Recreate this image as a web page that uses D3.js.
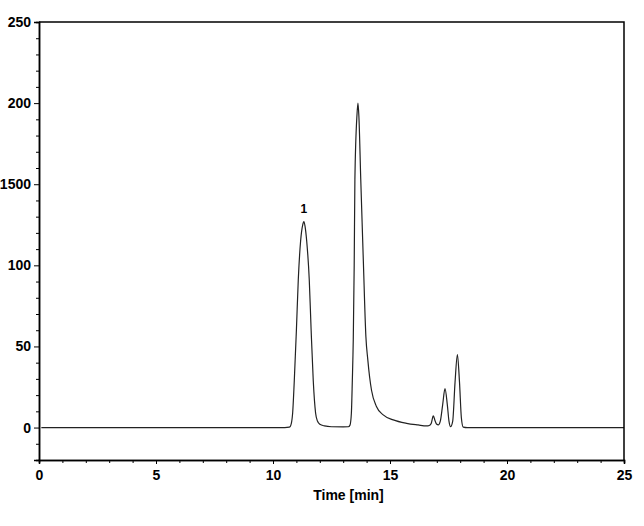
<!DOCTYPE html>
<html>
<head>
<meta charset="utf-8">
<script src="https://cdn.jsdelivr.net/npm/d3@7"></script>
<style>
  body { margin: 0; background: #fff; }
  text { font-family: "Liberation Sans", Arial, sans-serif; font-weight: bold; fill: #000; }
</style>
</head>
<body>
<div id="wrapper"></div>
<script>
// 1. Data (time in min, signal)
const times = [
  0.1, 2, 4, 6, 8, 10, 10.5, 10.7, 10.75, 10.84, 10.91, 11.0, 11.08, 11.18, 11.27, 11.32,
  11.37, 11.44, 11.55, 11.63, 11.72, 11.82, 11.9, 12.0, 12.2, 12.5, 13.0, 13.22, 13.29,
  13.35, 13.39, 13.43, 13.47, 13.50, 13.59, 13.63, 13.67, 13.75, 13.86, 13.97,
  14.05, 14.13, 14.21, 14.42, 14.71, 15.14, 15.71, 16.2, 16.56, 16.68, 16.76, 16.85,
  16.93, 17.0, 17.06, 17.15, 17.25, 17.35, 17.45, 17.52, 17.59, 17.68, 17.78, 17.88,
  17.97, 18.05, 18.13, 18.3, 20, 22, 25
]
const signal = [
  0, 0, 0, 0, 0, 0, 0, 0.3, 1, 9, 29, 60, 91, 115, 125, 127,
  124, 115, 91, 60, 29, 9, 4, 2, 1, 0.5, 0.4, 0.5, 1.5,
  9, 29, 54, 100, 153, 193, 200, 192, 153, 103, 56,
  42, 31, 23, 13, 7.8, 4.7, 2.6, 1.6, 1.0, 1.3, 2.5, 7.2,
  4, 2, 1.6, 4, 14, 24, 14, 4, 0.6, 4, 28, 45,
  28, 6, 0.3, 0, 0, 0, 0
]

const xTicks = [0, 5, 10, 15, 20, 25]
const yTicks = [0, 50, 100, 150, 200, 250]
const yTickLabels = ["0", "50", "100", "1500", "200", "250"]
const peakLabels = ["1"]
const peakTimes = [11.32]
const peakHeights = [127]

const points = times.map((t, i) => ({ t, v: signal[i] }))

// 2. Dimensions
let dimensions = {
  width: 644,
  height: 526,
  margin: { top: 22, right: 20, bottom: 66, left: 39 },
}
dimensions.boundedWidth = dimensions.width - dimensions.margin.left - dimensions.margin.right
dimensions.boundedHeight = dimensions.height - dimensions.margin.top - dimensions.margin.bottom

// 3. Canvas
const wrapper = d3.select("#wrapper").append("svg")
  .attr("width", dimensions.width)
  .attr("height", dimensions.height)

const bounds = wrapper.append("g")
  .attr("transform", `translate(${dimensions.margin.left},${dimensions.margin.top})`)

// 4. Scales
const xScale = d3.scaleLinear()
  .domain([0, 25])
  .range([0, dimensions.boundedWidth])

const yScale = d3.scaleLinear()
  .domain([-20, 250])
  .range([dimensions.boundedHeight, 0])

// 5. Trace
const lineGenerator = d3.line()
  .x(d => xScale(d.t))
  .y(d => yScale(d.v))
  .curve(d3.curveMonotoneX)

bounds.append("path")
  .datum(points)
  .attr("d", lineGenerator)
  .attr("fill", "none")
  .attr("stroke", "#222")
  .attr("stroke-width", 1.2)

// peak label
bounds.selectAll(".peak-label")
  .data(peakLabels)
  .enter().append("text")
    .attr("class", "peak-label")
    .attr("x", (d, i) => xScale(peakTimes[i]))
    .attr("y", (d, i) => yScale(peakHeights[i]) - 9)
    .attr("text-anchor", "middle")
    .style("font-size", "12px")
    .text(d => d)

// 6. Axes
// frame top + right
bounds.append("path")
  .attr("d", `M0,0H${dimensions.boundedWidth}V${dimensions.boundedHeight}`)
  .attr("fill", "none")
  .attr("stroke", "#000")
  .attr("stroke-width", 1.5)

const yMinor = d3.range(-20, 251, 10).filter(v => v % 50 != 0)
const xMinor = d3.range(0, 26, 1).filter(v => v % 5 != 0)

bounds.append("g")
  .call(d3.axisLeft(yScale).tickValues(yMinor).tickSize(3).tickFormat(""))
bounds.append("g")
  .call(d3.axisLeft(yScale).tickValues(yTicks).tickSize(5).tickPadding(3)
    .tickFormat((d, i) => yTickLabels[i]))

bounds.append("g")
  .attr("transform", `translate(0,${dimensions.boundedHeight})`)
  .call(d3.axisBottom(xScale).tickValues(xMinor).tickSize(3).tickFormat(""))
const xAxis = bounds.append("g")
  .attr("transform", `translate(0,${dimensions.boundedHeight})`)
  .call(d3.axisBottom(xScale).tickValues(xTicks).tickSize(4).tickPadding(6))

bounds.selectAll(".domain").attr("stroke-width", 1.5)
bounds.selectAll(".tick line").attr("stroke", "#000")
bounds.selectAll(".tick text")
  .style("font-size", "14px")
  .style("font-family", "'Liberation Sans', Arial, sans-serif")
  .style("font-weight", "bold")

xAxis.append("text")
  .attr("x", dimensions.boundedWidth / 2 + 17)
  .attr("y", 40)
  .attr("text-anchor", "middle")
  .style("font-size", "14px")
  .text("Time [min]")
</script>
</body>
</html>
